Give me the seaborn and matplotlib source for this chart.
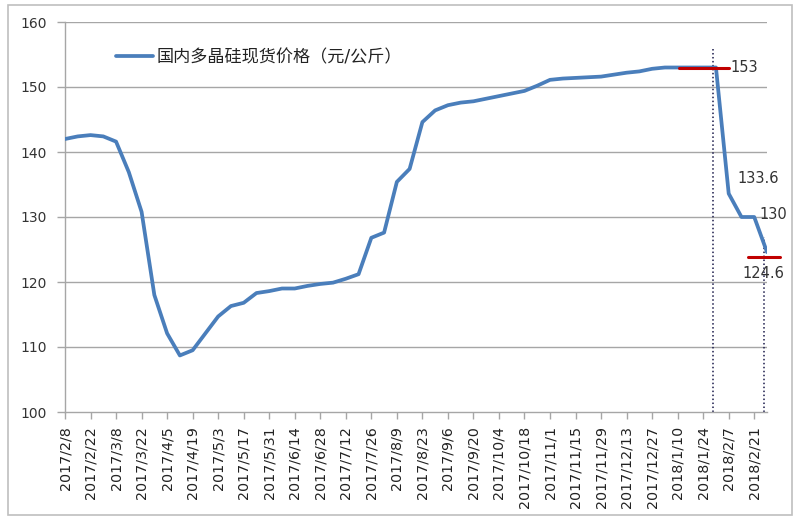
import matplotlib
matplotlib.use("Agg")
import matplotlib.pyplot as plt
import seaborn as sns
import pandas as pd
import numpy as np
from matplotlib.patches import Rectangle

# ---------------- data ----------------
dates = pd.date_range("2017-02-08", "2018-02-28", freq="7D")
prices = [142.0, 142.4, 142.6, 142.4, 141.6, 136.9, 130.8, 118.0, 112.1, 108.7,
          109.5, 112.1, 114.7, 116.3, 116.8, 118.3, 118.6, 119.0, 119.0, 119.4,
          119.7, 119.9, 120.5, 121.2, 126.8, 127.6, 135.4, 137.4, 144.6, 146.4,
          147.2, 147.6, 147.8, 148.2, 148.6, 149.0, 149.4, 150.2, 151.1, 151.3,
          151.4, 151.5, 151.6, 151.9, 152.2, 152.4, 152.8, 153.0, 153.0, 153.0,
          153.0, 153.0, 133.6, 130.0, 130.0, 124.6]
series_name = "国内多晶硅现货价格（元/公斤）"
label_values = ["153", "133.6", "130", "124.6"]
yticks = [100, 110, 120, 130, 140, 150, 160]

df = pd.DataFrame({"idx": np.arange(len(prices)), "price": prices})
tick_idx = list(range(0, len(prices) - 1, 2))
tick_labels = [f"{dates[i].year}/{dates[i].month}/{dates[i].day}" for i in tick_idx]

# ---------------- style ----------------
sns.set_style("white")
plt.rcParams["font.family"] = ["DejaVu Sans", "Noto Sans CJK SC"]

fig = plt.figure(figsize=(8, 5.28), dpi=100)
ax = fig.add_axes([65 / 800, 1 - 412 / 528, 702 / 800, 390 / 528])

grid_c = "#a6a6a6"
for v in yticks[1:]:
    ax.axhline(v, color=grid_c, lw=1.0, zorder=0)

sns.lineplot(data=df, x="idx", y="price", ax=ax, color="#4a7ebb", lw=2.7,
             label=series_name, zorder=3)

ax.set_xlim(0, len(prices) - 1)
ax.set_ylim(100, 160)
ax.set_yticks(yticks)
ax.set_yticklabels([str(v) for v in yticks], fontsize=10, color="#333333")
ax.set_xticks(tick_idx)
ax.set_xticklabels(tick_labels, rotation=90, fontsize=10.3, color="#222222")
ax.set_xlabel("")
ax.set_ylabel("")
ax.tick_params(axis="y", length=6, width=1, color=grid_c, pad=7, direction="out", left=True)
ax.tick_params(axis="x", length=5, width=1, color=grid_c, pad=5, direction="out", bottom=True)

for s in ["top", "right"]:
    ax.spines[s].set_visible(False)
for s in ["left", "bottom"]:
    ax.spines[s].set_color(grid_c)
    ax.spines[s].set_linewidth(1.0)

# vertical dotted markers
ax.plot([50.8, 50.8], [100, 156], ls=(0, (1, 1.6)), color="#1a1a4a", lw=1.1, zorder=2)
ax.plot([54.8, 54.8], [100, 127.0], ls=(0, (1, 1.6)), color="#1a1a4a", lw=1.1, zorder=2)

# red level lines
ax.plot([48.1, 52.0], [153.0, 153.0], color="#c00000", lw=2.2, zorder=4, clip_on=False)
ax.plot([53.5, 56.0], [123.9, 123.9], color="#c00000", lw=2.2, zorder=4, clip_on=False)

# data labels
txt_c = "#333333"
ax.text(52.1, 153.0, label_values[0], fontsize=10.5, va="center", ha="left", color=txt_c)
ax.text(52.7, 135.9, label_values[1], fontsize=10.5, va="center", ha="left", color=txt_c)
ax.text(54.4, 130.4, label_values[2], fontsize=10.5, va="center", ha="left", color=txt_c)
ax.text(53.1, 121.3, label_values[3], fontsize=10.5, va="center", ha="left", color=txt_c)

leg = ax.legend(loc="center left", bbox_to_anchor=(0.072, 0.91), frameon=False,
                fontsize=12.3, handlelength=2.2, handletextpad=0.2,
                borderaxespad=0, borderpad=0)
for t in leg.get_texts():
    t.set_color("#222222")

# outer chart frame
fig.patches.append(Rectangle((7.5 / 800, 1 - 515 / 528), 784 / 800, 510.5 / 528,
                             transform=fig.transFigure, fill=False,
                             edgecolor="#bfbfbf", lw=1.2))

fig.savefig("out.png", dpi=100)
